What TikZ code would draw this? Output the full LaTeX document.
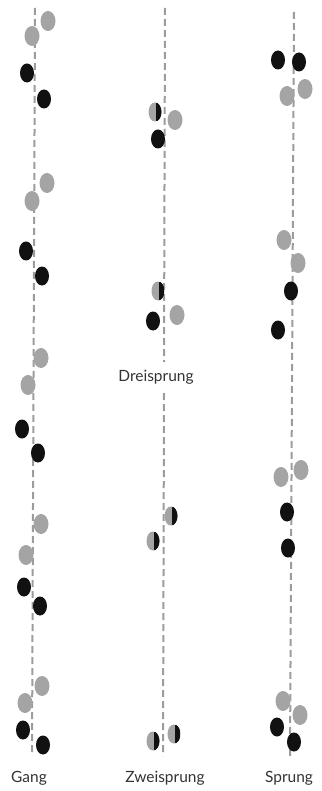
\documentclass[tikz,border=0pt]{standalone}
\usepackage{fontspec}
\setmainfont{Lato}
\usetikzlibrary{shapes.geometric}
\definecolor{hoofgray}{HTML}{A4A4A4}
\definecolor{hoofblack}{HTML}{111111}
\definecolor{trackgray}{HTML}{9C9C9C}
\tikzset{
  print/.style={ellipse, inner sep=0pt, minimum width=14pt, minimum height=19pt},
  blk/.style={print, fill=hoofblack},
  gry/.style={print, fill=hoofgray, minimum width=15pt, minimum height=20pt},
  half/.style={print, fill=hoofgray, minimum width=13pt,
    path picture={\fill[hoofblack] ([xshift=1pt]path picture bounding box.north) rectangle (path picture bounding box.south east);}},
  track/.style={draw=trackgray, line width=2pt, dash pattern=on 7pt off 4pt},
  gait/.style={font=\fontsize{15.5}{18}\selectfont, text=black!80}
}
\begin{document}
\begin{tikzpicture}[x=1pt,y=-1pt]
\useasboundingbox (0,0) rectangle (321,791);
% walking lines
\coordinate (gt) at (35,8);   \coordinate (gb) at (32,756);
\coordinate (dt) at (165,8);  \coordinate (db) at (164,362);
\coordinate (zt) at (164,393);\coordinate (zb) at (163,756);
\coordinate (st) at (294,12); \coordinate (sb) at (290,756);
\draw[track] (gt) -- (gb);
\draw[track] (dt) -- (db);
\draw[track] (zt) -- (zb);
\draw[track] (st) -- (sb);
% Gang
\node[gry] (g1) at (48,21) {};
\node[gry] (g2) at (32,36) {};
\node[blk] (g3) at (27,73) {};
\node[blk] (g4) at (44,99) {};
\node[gry] (g5) at (47,183) {};
\node[gry] (g6) at (32,201) {};
\node[blk] (g7) at (26,251) {};
\node[blk] (g8) at (42,276) {};
\node[gry] (g9) at (41,358) {};
\node[gry] (g10) at (28,385) {};
\node[blk] (g11) at (22,429) {};
\node[blk] (g12) at (38,453) {};
\node[gry] (g13) at (41,524) {};
\node[gry] (g14) at (26,555) {};
\node[blk] (g15) at (24,587) {};
\node[blk] (g16) at (40,606) {};
\node[gry] (g17) at (42,686) {};
\node[gry] (g18) at (25,703) {};
\node[blk] (g19) at (23,730) {};
\node[blk] (g20) at (43,745) {};
% Dreisprung
\node[half] (d1) at (155,112) {};
\node[gry] (d2) at (175,120) {};
\node[blk] (d3) at (158,139) {};
\node[half] (d4) at (158,291) {};
\node[gry] (d5) at (177,315) {};
\node[blk] (d6) at (153,321) {};
% Zweisprung
\node[half] (z1) at (171,516) {};
\node[half] (z2) at (153,541) {};
\node[half] (z3) at (174,734) {};
\node[half] (z4) at (153,741) {};
% Sprung
\node[blk] (s1) at (278,60) {};
\node[blk] (s2) at (299,62) {};
\node[gry] (s3) at (305,89) {};
\node[gry] (s4) at (287,96) {};
\node[gry] (s5) at (284,240) {};
\node[gry] (s6) at (298,263) {};
\node[blk] (s7) at (291,291) {};
\node[blk] (s8) at (278,330) {};
\node[gry] (s9) at (301,470) {};
\node[gry] (s10) at (281,477) {};
\node[blk] (s11) at (287,512) {};
\node[blk] (s12) at (288,548) {};
\node[gry] (s13) at (283,701) {};
\node[gry] (s14) at (300,715) {};
\node[blk] (s15) at (277,727) {};
\node[blk] (s16) at (294,742) {};
% gait names
\node[gait] (lgang) at (29,778) {Gang};
\node[gait] (ldrei) at (156,377) {Dreisprung};
\node[gait] (lzwei) at (165,778) {Zweisprung};
\node[gait] (lsprung) at (289,778) {Sprung};
\end{tikzpicture}
\end{document}
